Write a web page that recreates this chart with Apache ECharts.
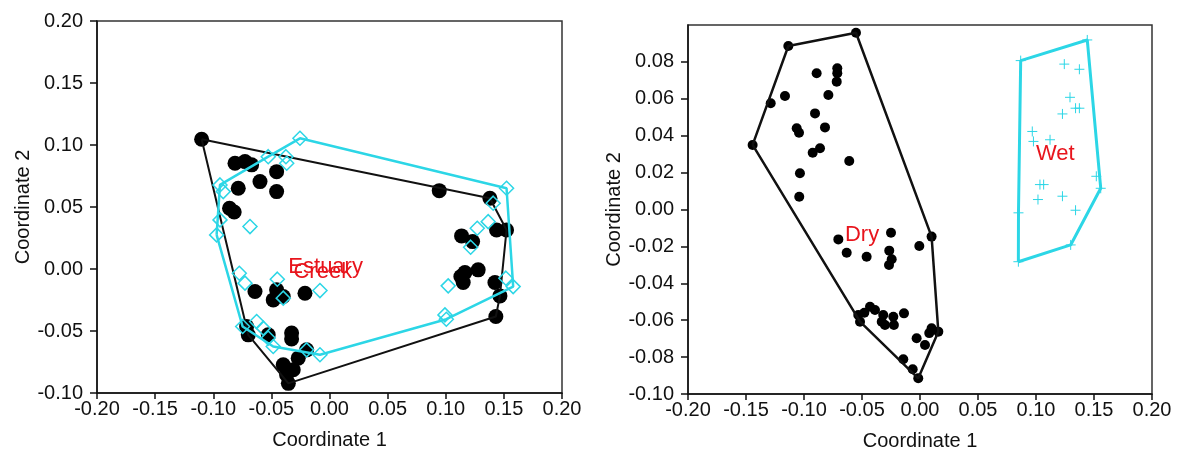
<!DOCTYPE html>
<html>
<head>
<meta charset="utf-8">
<script src="https://cdn.jsdelivr.net/npm/echarts@6/dist/echarts.min.js"></script>
<style>
html,body{margin:0;padding:0;background:#fff;}
#chart{width:1181px;height:458px;}
</style>
</head>
<body>
<div id="chart"></div>
<script>
// ---- Data ----
// Left panel: black filled dots
const estuaryPts = [
  [-0.110,0.1046],[-0.0813,0.0853],[-0.0727,0.0866],[-0.067,0.084],[-0.0785,0.0651],
  [-0.0598,0.0705],[-0.0455,0.0785],[-0.0455,0.0624],[-0.086,0.049],[-0.082,0.046],
  [0.0944,0.0632],[0.138,0.0571],[0.1437,0.0315],[0.1523,0.0315],[0.1136,0.0267],
  [0.1231,0.0221],[0.1165,-0.0029],[0.1279,-0.0007],[0.115,-0.0109],[0.113,-0.006],
  [0.1423,-0.0109],[0.1466,-0.0217],[0.1431,-0.0383],
  [-0.0641,-0.0182],[-0.0455,-0.0168],[-0.0484,-0.0249],[-0.0398,-0.0222],[-0.0211,-0.0195],
  [-0.0713,-0.0464],[-0.0699,-0.0531],[-0.0527,-0.0531],[-0.0326,-0.0517],[-0.0326,-0.0565],
  [-0.0197,-0.0652],[-0.0269,-0.0719],[-0.0398,-0.0773],[-0.0312,-0.0813],[-0.0369,-0.0853],
  [-0.0354,-0.0922]
];
// Left panel: cyan hollow diamonds
const creekPts = [
  [-0.0254,0.1054],[-0.0527,0.0906],[-0.0375,0.0906],[-0.0368,0.0853],[-0.0942,0.0678],
  [-0.0914,0.0624],[-0.0942,0.0396],[-0.0684,0.0342],[-0.0971,0.0275],
  [-0.0776,-0.0034],[-0.0727,-0.0114],[-0.0449,-0.0082],[-0.0398,-0.0235],[-0.0082,-0.0174],
  [-0.0747,-0.0464],[-0.0627,-0.0424],[-0.057,-0.0477],[-0.0527,-0.0557],[-0.0484,-0.0625],
  [-0.0197,-0.0652],[-0.0082,-0.0692],
  [0.1523,0.0651],[0.1408,0.0531],[0.1365,0.0382],[0.1271,0.0329],[0.1214,0.0176],
  [0.1021,-0.0136],[0.158,-0.0142],[0.1517,-0.0074],[0.0993,-0.037],[0.1005,-0.0405]
];
// Right panel: black filled dots
const dryPts = [
  [-0.0552,0.0958],[-0.1135,0.0886],[-0.1287,0.0576],[-0.1164,0.0615],[-0.1443,0.035],
  [-0.0891,0.0738],[-0.0713,0.0765],[-0.0713,0.0738],[-0.0718,0.0693],[-0.079,0.0621],
  [-0.0905,0.0521],[-0.1063,0.044],[-0.1043,0.0416],[-0.0819,0.0445],[-0.0925,0.0308],
  [-0.0862,0.0332],[-0.061,0.0263],[-0.1035,0.0196],[-0.1041,0.0069],
  [0.010,-0.0147],[-0.0704,-0.0162],[-0.025,-0.0126],[-0.0006,-0.0198],[-0.0632,-0.0234],
  [-0.046,-0.0256],[-0.0265,-0.0223],[-0.0244,-0.027],[-0.0267,-0.0301],
  [-0.0532,-0.0572],[-0.0517,-0.0608],[-0.0431,-0.0527],[-0.0388,-0.0545],[-0.048,-0.056],
  [-0.0317,-0.0572],[-0.033,-0.0608],[-0.0302,-0.0626],[-0.023,-0.0581],[-0.0225,-0.0626],
  [-0.0138,-0.0563],[0.010,-0.0644],[0.008,-0.067],[0.0158,-0.0662],[-0.0029,-0.0698],
  [0.0043,-0.0734],[-0.0144,-0.0812],[-0.0063,-0.0866],[-0.0015,-0.0915]
];
// Right panel: cyan plus marks
const wetPts = [
  [0.0868,0.0807],[0.1442,0.0919],[0.1244,0.0788],[0.1374,0.076],[0.1293,0.0608],
  [0.1341,0.0549],[0.1374,0.0549],[0.1228,0.0518],[0.0968,0.0423],[0.0978,0.0369],
  [0.1121,0.0378],[0.152,0.018],[0.1558,0.0115],[0.1034,0.0135],[0.1066,0.0135],
  [0.1017,0.0054],[0.1228,0.0072],[0.1341,-0.0004],[0.0849,-0.0018],[0.1299,-0.0192],
  [0.0848,-0.0283]
];
// Group labels (text and where it sits, in data units)
const leftLabels = [
  {name:'Estuary', value:[-0.0354,0.002]},
  {name:'Creek', value:[-0.031,-0.002]}
];
const rightLabels = [
  {name:'Dry', value:[-0.0647,-0.0138]},
  {name:'Wet', value:[0.100,0.030]}
];
const xTicks = {min:-0.2, max:0.2, interval:0.05};
const yTicksLeft = {min:-0.1, max:0.2, interval:0.05};
const yTicksRight = {min:-0.1, max:0.1, interval:0.02};

// ---- Convex hull (monotone chain) ----
function hull(pts){
  const p = pts.slice().sort((a,b)=>a[0]-b[0]||a[1]-b[1]);
  const cross=(o,a,b)=>(a[0]-o[0])*(b[1]-o[1])-(a[1]-o[1])*(b[0]-o[0]);
  const lo=[],up=[];
  for(const q of p){while(lo.length>=2&&cross(lo[lo.length-2],lo[lo.length-1],q)<=0)lo.pop();lo.push(q);}
  for(let i=p.length-1;i>=0;i--){const q=p[i];while(up.length>=2&&cross(up[up.length-2],up[up.length-1],q)<=0)up.pop();up.push(q);}
  up.pop();lo.pop();
  const h=lo.concat(up);h.push(h[0]);return h;
}

const FONT='Liberation Sans, Arial, sans-serif';
const CYAN='#2cd6e6';
const RED='#e8141c';
const INK='#111';
const fmt=v=>v.toFixed(2);

function xAxis(gi){
  return {gridIndex:gi,type:'value',min:xTicks.min,max:xTicks.max,interval:xTicks.interval,
    name:'Coordinate 1',nameLocation:'middle',nameGap:37,
    nameTextStyle:{fontFamily:FONT,fontSize:20,color:INK},
    axisLine:{show:true,onZero:false,lineStyle:{color:INK,width:1.5}},
    axisTick:{show:true,inside:false,length:6,lineStyle:{color:INK,width:1.5}},
    axisLabel:{formatter:fmt,fontFamily:FONT,fontSize:20,color:INK,margin:6,hideOverlap:false},
    splitLine:{show:false}};
}
function yAxis(gi,t,hideMax){
  return {gridIndex:gi,type:'value',min:t.min,max:t.max,interval:t.interval,
    name:'Coordinate 2',nameLocation:'middle',nameGap:62,
    nameTextStyle:{fontFamily:FONT,fontSize:20,color:INK},
    axisLine:{show:true,onZero:false,lineStyle:{color:INK,width:1.5}},
    axisTick:{show:true,inside:false,length:7,lineStyle:{color:INK,width:1.5}},
    axisLabel:{formatter:fmt,fontFamily:FONT,fontSize:20,color:INK,margin:14,showMaxLabel:!hideMax,hideOverlap:false},
    splitLine:{show:false}};
}
function labelSeries(xi,yi,data){
  return {type:'scatter',xAxisIndex:xi,yAxisIndex:yi,symbolSize:0,data:data,silent:true,z:10,
    itemStyle:{opacity:1},
    label:{show:true,position:'right',distance:0,formatter:p=>p.name,color:RED,fontFamily:FONT,fontSize:22}};
}

const chart=echarts.init(document.getElementById('chart'),null,{renderer:'canvas'});
chart.setOption({
  animation:false,
  backgroundColor:'#fff',
  grid:[
    {left:97,right:619,top:21,bottom:65,show:true,borderColor:'#333',borderWidth:1.5,backgroundColor:'transparent'},
    {left:688,right:29,top:25,bottom:64,show:true,borderColor:'#333',borderWidth:1.5,backgroundColor:'transparent'}
  ],
  xAxis:[xAxis(0),xAxis(1)],
  yAxis:[yAxis(0,yTicksLeft,false),yAxis(1,yTicksRight,true)],
  series:[
    {type:'scatter',xAxisIndex:0,yAxisIndex:0,data:estuaryPts,symbol:'circle',symbolSize:15,
      itemStyle:{color:'#000',opacity:1},z:2},
    {type:'line',xAxisIndex:0,yAxisIndex:0,data:hull(estuaryPts),symbol:'none',
      lineStyle:{color:'#111',width:2},z:3},
    {type:'scatter',xAxisIndex:0,yAxisIndex:0,data:creekPts,symbol:'diamond',symbolSize:14,
      itemStyle:{color:'rgba(0,0,0,0)',borderColor:CYAN,borderWidth:1.5,opacity:1},z:4},
    {type:'line',xAxisIndex:0,yAxisIndex:0,data:hull(creekPts),symbol:'none',
      lineStyle:{color:CYAN,width:2.5},z:5},
    labelSeries(0,0,leftLabels),

    {type:'scatter',xAxisIndex:1,yAxisIndex:1,data:dryPts,symbol:'circle',symbolSize:10,
      itemStyle:{color:'#000',opacity:1},z:2},
    {type:'line',xAxisIndex:1,yAxisIndex:1,data:hull(dryPts),symbol:'none',
      lineStyle:{color:'#111',width:2.5},z:3},
    {type:'scatter',xAxisIndex:1,yAxisIndex:1,data:wetPts,symbol:'path://M5,0L5,10M0,5L10,5',symbolSize:10,
      itemStyle:{color:'rgba(0,0,0,0)',borderColor:CYAN,borderWidth:1,opacity:1},z:4},
    {type:'line',xAxisIndex:1,yAxisIndex:1,data:hull(wetPts),symbol:'none',
      lineStyle:{color:CYAN,width:3},z:5},
    labelSeries(1,1,rightLabels)
  ]
});
</script>
</body>
</html>
